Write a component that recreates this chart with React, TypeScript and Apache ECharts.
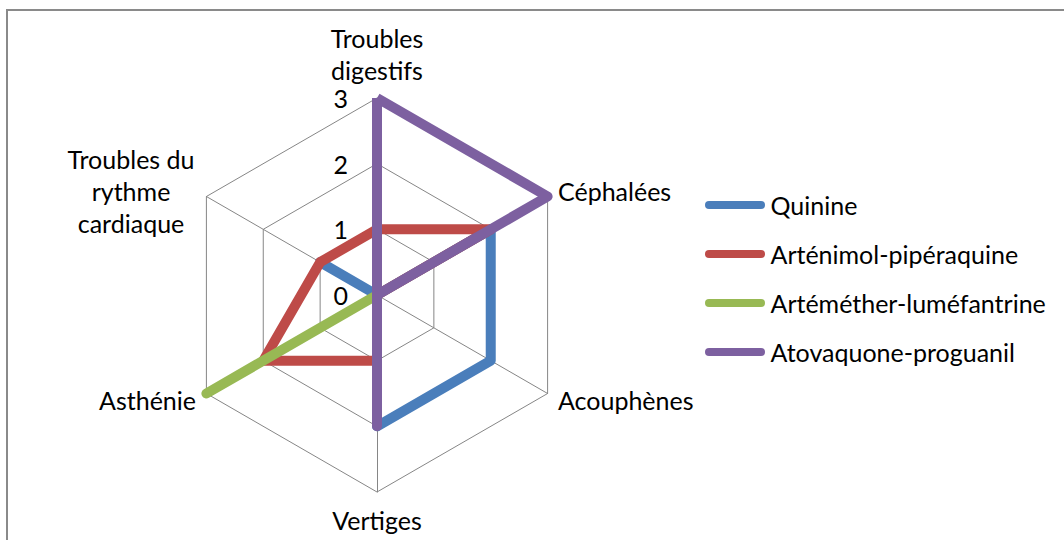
import React, { useEffect, useRef } from "react";
import * as echarts from "echarts";

// Axes, listed clockwise starting from the top
const categories = [
  "Troubles\ndigestifs",
  "Céphalées",
  "Acouphènes",
  "Vertiges",
  "Asthénie",
  "Troubles du\nrythme\ncardiaque",
];
const maxValue = 3;
const tickLabels = ["0", "1", "2", "3"];

const seriesNames = [
  "Quinine",
  "Arténimol-pipéraquine",
  "Artéméther-luméfantrine",
  "Atovaquone-proguanil",
];
const quinine = [0, 2, 2, 2, 0, 1];
const artenimol = [1, 2, 0, 1, 2, 1];
const artemether = [0, 0, 0, 0, 3, 0];
const atovaquone = [3, 3, 0, 2, 0, 0];
const seriesValues = [quinine, artenimol, artemether, atovaquone];
const colors = ["#4A7EBB", "#BE4B48", "#98B954", "#7D60A0"];

const FONT = "Lato";
const FS = 25;

export default function App() {
  const ref = useRef<HTMLDivElement>(null);
  useEffect(() => {
    if (!ref.current) return;
    const chart = echarts.init(ref.current, null, { renderer: "svg" });
    // ECharts places radar indicators counter-clockwise; reorder to get clockwise display
    const order = [0, 5, 4, 3, 2, 1];
    const indicator = order.map((i) => ({ name: categories[i], max: maxValue, min: 0 }));
    const option: any = {
      animation: false,
      textStyle: { fontFamily: FONT },
      graphic: [
        {
          type: "rect",
          shape: { x: 7, y: 10, width: 1100, height: 600 },
          style: { fill: "none", stroke: "#8a8a8a", lineWidth: 2 },
          silent: true,
        },
      ],
      legend: {
        orient: "vertical",
        left: 700,
        top: 184,
        padding: 5,
        itemWidth: 61,
        itemHeight: 8,
        itemGap: 17,
        icon: "path://M4,0 L56,0 A4,4 0 0 1 56,8 L4,8 A4,4 0 0 1 4,0 Z",
        textStyle: { fontFamily: FONT, fontSize: FS, color: "#000", lineHeight: 32 },
        data: seriesNames,
      },
      radar: {
        center: [377, 295],
        radius: 197,
        startAngle: 90,
        splitNumber: 3,
        shape: "polygon",
        indicator,
        nameGap: 12,
        axisName: {
          color: "#000",
          fontFamily: FONT,
          fontSize: FS,
          lineHeight: 32,
          formatter: (name: string) => {
            const lines = name.split("\n");
            if (lines.length === 1) return name;
            return lines.map((l) => `{m|${l}}`).join("\n");
          },
          rich: {
            m: { width: 130, align: "center", fontFamily: FONT, fontSize: FS, lineHeight: 32, color: "#000" },
          },
        },
        axisLine: { lineStyle: { color: "#868686", width: 1 } },
        splitLine: { lineStyle: { color: "#868686", width: 1 } },
        splitArea: { show: false },
        axisTick: { show: false },
        axisLabel: { show: false },
      },
      grid: { left: 356, top: 98, height: 197, width: 40 },
      xAxis: { type: "value", show: false },
      yAxis: {
        type: "value",
        min: 0,
        max: maxValue,
        interval: 1,
        axisLine: { show: false },
        axisTick: { show: false },
        splitLine: { show: false },
        axisLabel: {
          margin: 8,
          fontFamily: FONT,
          fontSize: FS,
          color: "#000",
          formatter: (v: number) => tickLabels[v] ?? String(v),
        },
      },
      series: seriesNames.map((name, s) => ({
        type: "radar",
        name,
        symbol: "none",
        lineStyle: { color: colors[s], width: 10 },
        itemStyle: { color: colors[s] },
        data: [{ value: order.map((i) => seriesValues[s][i]), name }],
      })),
    };
    chart.setOption(option);
    return () => chart.dispose();
  }, []);
  return (
    <div
      ref={ref}
      style={{ position: "fixed", left: 0, top: 0, width: 1064, height: 540, background: "#fff" }}
    />
  );
}
